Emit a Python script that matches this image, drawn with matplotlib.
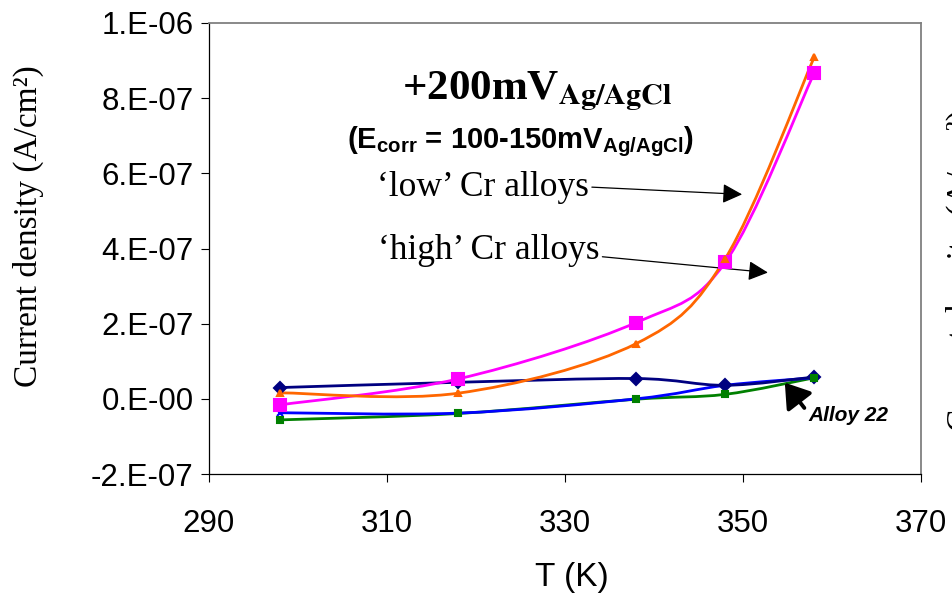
import numpy as np
import matplotlib
matplotlib.use("Agg")
import matplotlib.pyplot as plt
from matplotlib.path import Path
from matplotlib.patches import PathPatch

plt.rcParams['mathtext.fontset'] = 'custom'
plt.rcParams['mathtext.bf'] = 'Liberation Sans:bold'
plt.rcParams['mathtext.rm'] = 'Liberation Sans:bold'

# temperatures (K) and current densities (A/cm2)
T = [298, 318, 338, 348, 358]
navy_vals = [3.0e-8, 4.4e-8, 5.4e-8, 3.6e-8, 5.8e-8]
orange_vals = [1.6e-8, 1.5e-8, 1.47e-7, 3.73e-7, 9.09e-7]
magenta_vals = [-1.6e-8, 5.3e-8, 2.03e-7, 3.63e-7, 8.67e-7]
blue_vals = [-3.7e-8, -3.8e-8, 0.0, 3.6e-8, 5.6e-8]
green_vals = [-5.6e-8, -3.9e-8, -1e-9, 1.2e-8, 5.6e-8]

x_ticks = [290, 310, 330, 350, 370]
y_ticks = [-2e-7, 0.0, 2e-7, 4e-7, 6e-7, 8e-7, 1e-6]
y_ticklabels = ["-2.E-07", "0.E-00", "2.E-07", "4.E-07", "6.E-07", "8.E-07", "1.E-06"]

SANS = "Liberation Sans"
SERIF = "Liberation Serif"


def smooth_path(x, y):
    # excel style smoothed line: cubic bezier through the points
    pts = np.column_stack([x, y]).astype(float)
    n = len(pts)
    verts = [pts[0]]
    codes = [Path.MOVETO]
    for i in range(n - 1):
        p0 = pts[max(i - 1, 0)]
        p1 = pts[i]
        p2 = pts[i + 1]
        p3 = pts[min(i + 2, n - 1)]
        verts += [p1 + (p2 - p0) / 6.0, p2 - (p3 - p1) / 6.0, p2]
        codes += [Path.CURVE4] * 3
    return Path(verts, codes)


fig = plt.figure(figsize=(9.52, 5.98), dpi=100)
ax = fig.add_axes([209 / 952, 1 - 474 / 598, (921 - 209) / 952, (474 - 23) / 598])

# (values, colour, marker, size, line zorder, marker zorder)
series = [
    (blue_vals, "#0000FF", "x", 5, 2.1, 3.0),
    (green_vals, "#008000", "s", 4.5, 2.0, 3.3),
    (navy_vals, "#000080", "D", 6.5, 2.2, 3.1),
    (magenta_vals, "#FF00FF", "s", 8.5, 2.3, 3.4),
    (orange_vals, "#FF6600", "^", 5, 2.4, 3.5),
]
for vals, col, mk, ms, zl, zm in series:
    ax.add_patch(PathPatch(smooth_path(T, vals), fill=False, edgecolor=col,
                           lw=2.0, zorder=zl))
    ax.plot(T, vals, ls="none", marker=mk, ms=ms, color=col, mec=col,
            mew=1.5, zorder=zm)

ax.set_xlim(290, 370)
ax.set_ylim(-2e-7, 1e-6)
ax.set_xticks(x_ticks)
ax.set_xticklabels([str(v) for v in x_ticks], family=SANS, fontsize=22.5)
ax.set_yticks(y_ticks)
ax.set_yticklabels(y_ticklabels, family=SANS, fontsize=22.5)
ax.tick_params(axis="y", direction="out", length=6, width=0.8, pad=5)
ax.tick_params(axis="x", direction="out", length=6, width=0.8, pad=19)

for s in ["top", "right"]:
    ax.spines[s].set_color("#808080")
    ax.spines[s].set_linewidth(1.3)
for s in ["left", "bottom"]:
    ax.spines[s].set_color("black")
    ax.spines[s].set_linewidth(0.9)

ax.set_xlabel("T (K)", family=SANS, fontsize=24)
ax.xaxis.set_label_coords(0.51, -0.195)
ax.set_ylabel("Current density (A/cm²)", family=SERIF, fontsize=24)
ax.yaxis.set_label_coords(-0.232, 0.55)

# annotations inside the plot
ax.text(326.9, 7.97e-7, r"+200mV$_\mathbf{Ag/AgCl}$", family=SERIF,
        fontweight="bold", fontsize=31, ha="center", va="baseline",
        math_fontfamily="stix")
ax.text(325.0, 6.67e-7, r"(E$_\mathbf{corr}$ = 100-150mV$_\mathbf{Ag/AgCl}$)",
        family=SANS, fontweight="bold", fontsize=21, ha="center",
        va="baseline", math_fontfamily="custom")

thin = dict(arrowstyle="-|>,head_length=0.6,head_width=0.3", color="black",
            lw=0.9, mutation_scale=20, shrinkA=0, shrinkB=0, relpos=(1, 0.5))
ax.annotate("‘low’ Cr alloys", xy=(349.9, 5.44e-7), xytext=(308.9, 5.41e-7),
            family=SERIF, fontsize=25.5, ha="left", va="baseline",
            arrowprops=thin)
ax.annotate("‘high’ Cr alloys", xy=(352.8, 3.36e-7), xytext=(309.0, 3.71e-7),
            family=SERIF, fontsize=25.5, ha="left", va="baseline",
            arrowprops=dict(thin, relpos=(0.97, 0.35)))
ax.annotate("Alloy 22", xy=(354.7, 4.3e-8), xytext=(357.3, -5.9e-8),
            family=SANS, fontweight="bold", fontstyle="italic", fontsize=15,
            ha="left", va="baseline",
            arrowprops=dict(arrowstyle="-|>,head_length=0.6,head_width=0.4",
                            color="black", lw=2.8, mutation_scale=24,
                            shrinkA=1, shrinkB=0, relpos=(0, 0.65)))

# cut-off y label of the neighbouring chart at the right edge
fig.text(946 / 952, 1 - 270 / 598, "Current density (A/cm²)", family=SERIF,
         fontsize=24, rotation=90, ha="left", va="center")

fig.savefig("out.png", dpi=100)
